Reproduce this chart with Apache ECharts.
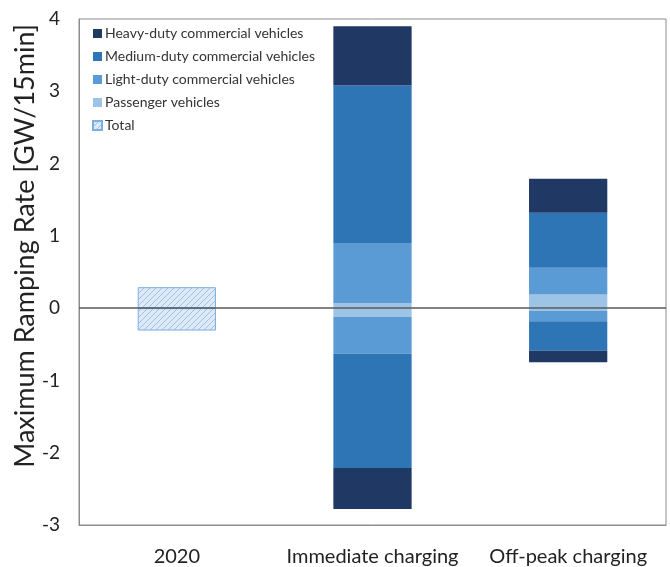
<!DOCTYPE html>
<html>
<head>
<meta charset="utf-8">
<script src="https://cdn.jsdelivr.net/npm/echarts@6/dist/echarts.min.js"></script>
<style>
  html, body { margin: 0; padding: 0; background: #fff; }
  #chart { width: 670px; height: 567px; }
</style>
</head>
<body>
<div id="chart"></div>
<script>
// categories and values (GW/15min)
var categories = ['2020', 'Immediate charging', 'Off-peak charging'];
var heavyUp = ['-', 0.82, 0.47];
var mediumUp = ['-', 2.18, 0.76];
var lightUp = ['-', 0.83, 0.37];
var passengerUp = ['-', 0.07, 0.19];
var passengerDown = ['-', -0.12, -0.04];
var lightDown = ['-', -0.51, -0.14];
var mediumDown = ['-', -1.58, -0.41];
var heavyDown = ['-', -0.57, -0.16];
var totalUp = [0.29, '-', '-'];
var totalDown = [-0.31, '-', '-'];
var yTicks = [-3, 4, 1];

var FONT = 'Lato, "Open Sans", sans-serif';

// hatch for the Total bar
var hatch = document.createElement('canvas');
hatch.width = 6; hatch.height = 6;
var hc = hatch.getContext('2d');
hc.fillStyle = '#dde9f6';
hc.fillRect(0, 0, 6, 6);
hc.strokeStyle = '#9ec2e6';
hc.lineWidth = 1;
hc.beginPath();
hc.moveTo(0, 6); hc.lineTo(6, 0);
hc.moveTo(-3, 3); hc.lineTo(3, -3);
hc.moveTo(3, 9); hc.lineTo(9, 3);
hc.stroke();

function bar(name, data, color, extra) {
  var s = {
    name: name,
    type: 'bar',
    stack: 'all',
    barWidth: '40%',
    data: data,
    itemStyle: { color: color }
  };
  return Object.assign(s, extra || {});
}

var totalStyle = {
  itemStyle: { color: { image: hatch, repeat: 'repeat' }, borderColor: '#7eaee0', borderWidth: 1 }
};

var myChart = echarts.init(document.getElementById('chart'));
myChart.setOption({
  animation: false,
  textStyle: { fontFamily: FONT },
  grid: {
    left: 79, right: 4, top: 19, bottom: 42,
    show: true, borderColor: '#8c8c8c', borderWidth: 1
  },
  legend: {
    orient: 'vertical',
    left: 87, top: 21,
    itemWidth: 9, itemHeight: 9, itemGap: 8,
    icon: 'rect',
    data: ['Heavy-duty commercial vehicles', 'Medium-duty commercial vehicles',
      'Light-duty commercial vehicles', 'Passenger vehicles', 'Total'],
    textStyle: { fontFamily: FONT, fontSize: 14, color: '#333', lineHeight: 15, padding: [0, 0, 0, -2] }
  },
  xAxis: {
    type: 'category',
    data: categories,
    axisLine: { onZero: false, lineStyle: { color: '#8c8c8c' } },
    axisTick: { show: false },
    axisLabel: { interval: 0, fontSize: 20, color: '#222', margin: 22, fontFamily: FONT }
  },
  yAxis: {
    type: 'value',
    min: yTicks[0], max: yTicks[1], interval: yTicks[2],
    axisLine: { show: true, lineStyle: { color: '#8c8c8c' } },
    axisTick: { show: false },
    splitLine: { show: false },
    axisLabel: { fontSize: 19, color: '#222', margin: 19, fontFamily: FONT }
  },
  graphic: [{
    type: 'text',
    left: 12, top: 24,
    rotation: Math.PI / 2,
    style: {
      text: 'Maximum Ramping Rate [GW/15min]',
      font: '27px ' + FONT,
      fill: '#222'
    }
  }],
  series: [
    bar('Passenger vehicles', passengerUp, '#9dc3e6'),
    bar('Light-duty commercial vehicles', lightUp, '#5b9bd5'),
    bar('Medium-duty commercial vehicles', mediumUp, '#2e75b6'),
    bar('Heavy-duty commercial vehicles', heavyUp, '#1f3864'),
    bar('Passenger vehicles', passengerDown, '#9dc3e6'),
    bar('Light-duty commercial vehicles', lightDown, '#5b9bd5'),
    bar('Medium-duty commercial vehicles', mediumDown, '#2e75b6'),
    bar('Heavy-duty commercial vehicles', heavyDown, '#1f3864'),
    bar('Total', totalUp, null, totalStyle),
    bar('Total', totalDown, null, Object.assign({
      markLine: {
        silent: true,
        symbol: 'none',
        label: { show: false },
        lineStyle: { color: '#595959', width: 1.5, type: 'solid' },
        data: [{ yAxis: 0 }]
      }
    }, totalStyle))
  ]
});
</script>
</body>
</html>
